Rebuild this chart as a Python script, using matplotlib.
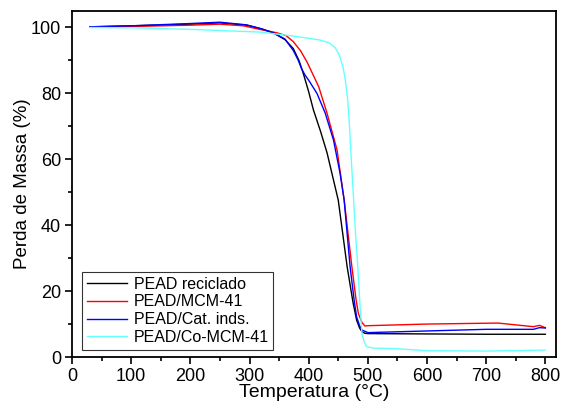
import numpy as np
import matplotlib
matplotlib.use("Agg")
import matplotlib.pyplot as plt
from matplotlib.ticker import MultipleLocator

plt.rcParams['font.family'] = ['Liberation Sans', 'DejaVu Sans']

# values (temperature in C, mass in %)
t_reciclado = [30, 100, 200, 250, 295, 320, 340, 360, 374, 384, 391, 400, 408, 420, 431, 450, 465, 475, 481, 486, 490, 495, 500, 600, 700, 800]
m_reciclado = [100.2, 100.5, 101.0, 101.4, 100.7, 99.6, 98.4, 96.3, 93.6, 89.8, 86.0, 80.5, 75.0, 68.5, 62.0, 47.6, 27.4, 16.5, 11.2, 8.8, 7.7, 7.2, 7.1, 7.0, 6.9, 6.9]

t_mcm41 = [30, 100, 200, 250, 290, 318, 346, 362, 374, 386, 397, 417, 431, 448, 460, 473, 480, 484, 490, 495, 500, 600, 720, 780, 790, 800]
m_mcm41 = [100.2, 100.3, 100.7, 101.0, 100.5, 99.4, 98.4, 97.5, 95.7, 93.0, 89.6, 82.0, 74.0, 62.8, 47.6, 27.4, 17.5, 13.2, 10.5, 9.4, 9.5, 10.0, 10.3, 9.2, 9.6, 8.9]

t_cat = [30, 100, 200, 250, 295, 320, 340, 360, 374, 382, 388, 394, 400, 414, 428, 442, 453, 460, 470, 477, 481, 486, 490, 500, 600, 700, 780, 790, 800]
m_cat = [100.2, 100.5, 101.2, 101.6, 100.8, 99.6, 98.4, 96.5, 93.0, 90.2, 87.5, 85.5, 84.0, 80.0, 74.0, 65.8, 55.8, 47.6, 27.4, 17.0, 12.2, 9.5, 8.2, 7.4, 7.9, 8.4, 8.4, 8.9, 8.8]

t_comcm = [30, 100, 205, 318, 374, 419, 435, 445, 452, 458, 462, 466, 469, 472, 476, 479, 483, 487, 490, 494, 498, 510, 550, 600, 700, 800]
m_comcm = [100.0, 99.9, 99.4, 98.6, 97.4, 96.2, 95.3, 93.8, 91.5, 88.0, 84.0, 78.0, 70.0, 60.0, 47.6, 38.0, 27.4, 15.0, 7.2, 4.5, 3.1, 2.7, 2.5, 1.9, 1.8, 2.1]

labels = ["PEAD reciclado", "PEAD/MCM-41", "PEAD/Cat. inds.", "PEAD/Co-MCM-41"]
colors = ["black", "red", "blue", "#66ffff"]

fig = plt.figure(figsize=(5.62, 4.08), dpi=100)
ax = fig.add_axes([72 / 562, 1 - 357 / 408, 484 / 562, 346 / 408])

series = [(t_reciclado, m_reciclado), (t_mcm41, m_mcm41), (t_cat, m_cat), (t_comcm, m_comcm)]
for (t, m), lab, c in zip(series, labels, colors):
    ax.plot(t, m, color=c, lw=1.0, label=lab)

ax.set_xlim(0, 818)
ax.set_ylim(0, 105)
ax.xaxis.set_major_locator(MultipleLocator(100))
ax.xaxis.set_minor_locator(MultipleLocator(50))
ax.yaxis.set_major_locator(MultipleLocator(20))
ax.yaxis.set_minor_locator(MultipleLocator(10))
ax.tick_params(which='both', direction='out', labelsize=13, width=1.2)
ax.tick_params(which='major', length=5, pad=3)
ax.tick_params(which='minor', length=3)
for s in ax.spines.values():
    s.set_linewidth(1.3)

ax.set_xlabel("Temperatura (°C)", fontsize=14, labelpad=-1)
ax.set_ylabel("Perda de Massa (%)", fontsize=13.5, labelpad=0)

leg = ax.legend(loc='lower left', bbox_to_anchor=(0.015, 0.012), fontsize=11.5,
                handlelength=2.5, frameon=True, fancybox=False, borderpad=0.3,
                labelspacing=0.17, handletextpad=0.4, borderaxespad=0.2)
leg.get_frame().set_edgecolor('black')
leg.get_frame().set_linewidth(0.8)

fig.savefig("out.png", dpi=100)
